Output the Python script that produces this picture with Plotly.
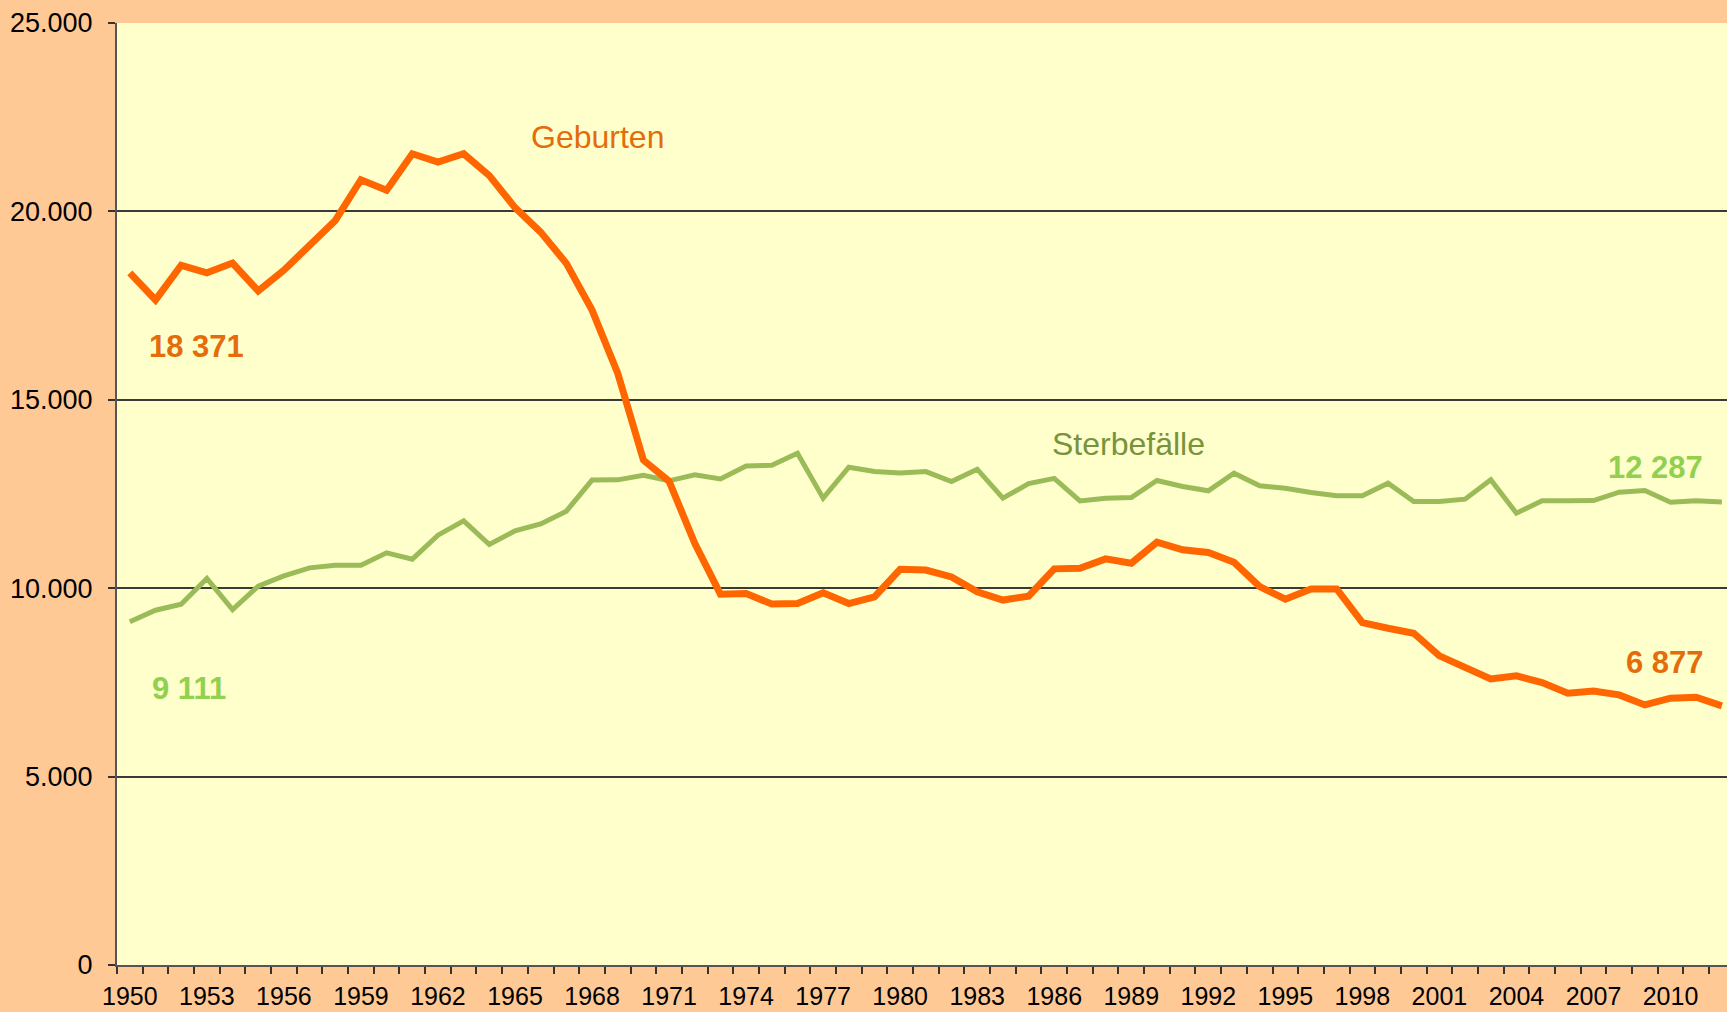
import plotly.graph_objects as go

# Jahre 1950 - 2012
jahre = list(range(1950, 2013))

geburten = [18371, 17650, 18570, 18370, 18630, 17890, 18440, 19110, 19760, 20840,
            20560, 21530, 21310, 21530, 20950, 20100, 19450, 18620, 17380, 15705,
            13400, 12840, 11190, 9841, 9858, 9580, 9593, 9876, 9593, 9770,
            10500, 10480, 10300, 9903, 9685, 9790, 10513, 10531, 10779, 10664,
            11221, 11018, 10947, 10690, 10044, 9708, 9982, 9982, 9088, 8938,
            8805, 8204, 7903, 7593, 7673, 7496, 7212, 7274, 7168, 6903,
            7080, 7106, 6877]

sterbefaelle = [9111, 9416, 9575, 10257, 9434, 10053, 10327, 10540, 10611, 10611,
                10938, 10770, 11407, 11788, 11159, 11522, 11705, 12044, 12870, 12875,
                12995, 12850, 13010, 12900, 13245, 13265, 13580, 12390, 13210, 13100,
                13060, 13095, 12830, 13158, 12389, 12775, 12915, 12315, 12389, 12407,
                12858, 12699, 12584, 13053, 12717, 12655, 12540, 12451, 12451, 12788,
                12301, 12301, 12363, 12876, 11991, 12319, 12319, 12327, 12549, 12593,
                12283, 12319, 12287]

y_ticks = [0, 5000, 10000, 15000, 20000, 25000]
y_labels = ["0", "5.000", "10.000", "15.000", "20.000", "25.000"]
x_ticks = list(range(1950, 2011, 3))

ORANGE = "#FF6600"
ORANGE_TXT = "#E46C0A"
GRUEN = "#9BBB59"
GRUEN_TXT = "#77933C"
GRUEN_HELL = "#92D050"
PFIRSICH = "#FFC996"

fig = go.Figure()
fig.add_trace(go.Scatter(x=jahre, y=sterbefaelle, mode="lines",
                         line=dict(color=GRUEN, width=5), name="Sterbefälle"))
fig.add_trace(go.Scatter(x=jahre, y=geburten, mode="lines",
                         line=dict(color=ORANGE, width=7), name="Geburten"))

font = "Liberation Sans, Arial, sans-serif"

# Beschriftungen im Diagramm
fig.add_annotation(x=1968.2, y=21970, text="Geburten", showarrow=False,
                   font=dict(family=font, size=32, color=ORANGE_TXT))
fig.add_annotation(x=1988.9, y=13820, text="Sterbefälle", showarrow=False,
                   font=dict(family=font, size=32, color=GRUEN_TXT))
fig.add_annotation(x=1952.6, y=16420, text="<b>18 371</b>", showarrow=False,
                   font=dict(family=font, size=31, color=ORANGE_TXT))
fig.add_annotation(x=1952.3, y=7350, text="<b>9 111</b>", showarrow=False,
                   font=dict(family=font, size=31, color=GRUEN_HELL))
fig.add_annotation(x=2009.4, y=13210, text="<b>12 287</b>", showarrow=False,
                   font=dict(family=font, size=31, color=GRUEN_HELL))
fig.add_annotation(x=2009.8, y=8040, text="<b>6 877</b>", showarrow=False,
                   font=dict(family=font, size=31, color=ORANGE_TXT))

fig.update_layout(
    width=1727, height=1012,
    margin=dict(l=117, r=0, t=23, b=47),
    paper_bgcolor=PFIRSICH,
    plot_bgcolor="#FFFFCC",
    showlegend=False,
    font=dict(family=font, color="black"),
)
fig.update_xaxes(
    range=[1949.5, 2012.2],
    tickmode="array", tickvals=x_ticks, ticks="",
    tickfont=dict(size=25), ticklabelstandoff=8,
    showgrid=False, zeroline=False,
    showline=True, linecolor="#555555", linewidth=2,
    minor=dict(tickmode="linear", tick0=1949.5, dtick=1, ticks="outside",
               ticklen=7, tickwidth=1.5, tickcolor="#333333", showgrid=False),
)
fig.update_yaxes(
    range=[0, 25000],
    tickmode="array", tickvals=y_ticks, ticktext=y_labels,
    ticks="outside", ticklen=7, tickwidth=1.5, tickcolor="#333333",
    tickfont=dict(size=27), ticklabelstandoff=10,
    showgrid=True, gridcolor="#3a3a3a", gridwidth=1.5,
    zeroline=False,
    showline=True, linecolor="#555555", linewidth=2,
)

# Seitenrand entfernen, damit das Diagramm das ganze Fenster füllt
fig.write_html("out.html", config={"displayModeBar": False},
               post_script="document.body.style.margin='0';"
                           "document.body.style.background='" + PFIRSICH + "';")
